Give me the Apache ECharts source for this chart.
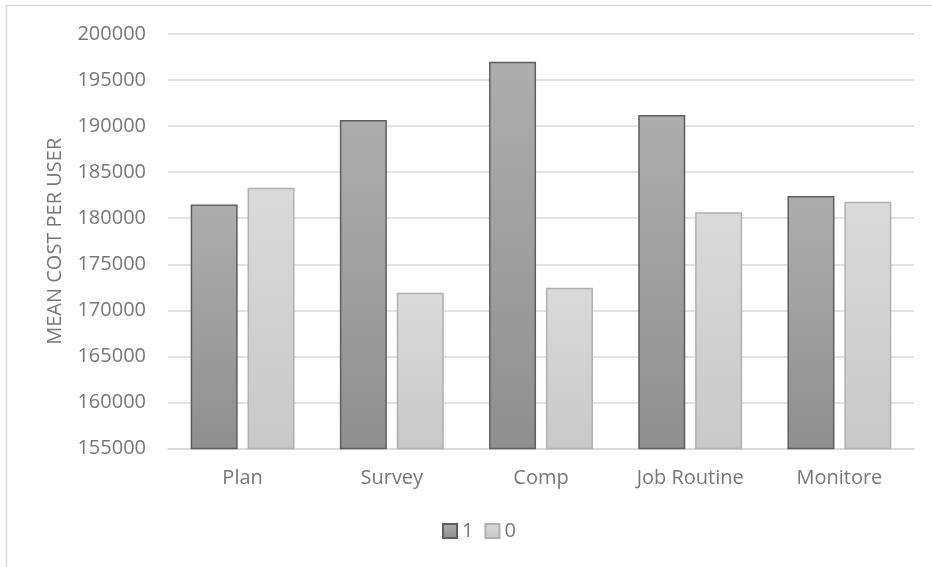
<!DOCTYPE html>
<html>
<head>
<meta charset="utf-8">
<script src="https://cdn.jsdelivr.net/npm/echarts@6/dist/echarts.min.js"></script>
<style>
  html, body { margin: 0; padding: 0; background: #fff; }
  #chart { width: 932px; height: 567px; }
</style>
</head>
<body>
<div id="chart"></div>
<script>
// Mean cost per user, by feature, for users with (1) and without (0) the feature
const categories = ['Plan', 'Survey', 'Comp', 'Job Routine', 'Monitore'];
const seriesNames = ['1', '0'];
const values1 = [181500, 190650, 197000, 191200, 182400];
const values0 = [183300, 171900, 172450, 180650, 181800];
const yTicks = { min: 155000, max: 200000, step: 5000 };

const FONT = '"Open Sans", "Noto Sans", sans-serif';
const TEXT = '#777777';
const GRID_LINE = '#d9d9d9';

function grad(top, bottom) {
  return new echarts.graphic.LinearGradient(0, 0, 0, 1, [
    { offset: 0, color: top },
    { offset: 1, color: bottom }
  ]);
}

const chart = echarts.init(document.getElementById('chart'), null, { renderer: 'canvas' });

chart.setOption({
  animation: false,
  backgroundColor: '#ffffff',
  textStyle: { fontFamily: FONT },
  grid: {
    left: 168, right: 18, top: 34, bottom: 118.5,
    containLabel: false,
    outerBoundsMode: 'none'
  },
  legend: {
    data: seriesNames,
    left: 442, top: 521,
    padding: 0,
    icon: 'rect',
    itemWidth: 14, itemHeight: 14,
    itemGap: 11,
    textStyle: { color: TEXT, fontSize: 20, fontFamily: FONT }
  },
  xAxis: {
    type: 'category',
    data: categories,
    axisLine: { show: true, lineStyle: { color: GRID_LINE, width: 1.5 } },
    axisTick: { show: false },
    axisLabel: { color: TEXT, fontSize: 20, fontFamily: FONT, margin: 20 }
  },
  yAxis: {
    type: 'value',
    name: 'MEAN COST PER USER',
    nameLocation: 'middle',
    nameGap: 103,
    nameTextStyle: { color: TEXT, fontSize: 20, fontFamily: FONT },
    min: yTicks.min, max: yTicks.max, interval: yTicks.step,
    axisLine: { show: false },
    axisTick: { show: false },
    axisLabel: {
      color: TEXT, fontSize: 20, fontFamily: FONT, margin: 22,
      formatter: (v) => String(v)
    },
    splitLine: { lineStyle: { color: GRID_LINE, width: 1.5 } }
  },
  series: [
    {
      name: seriesNames[0],
      type: 'bar',
      data: values1,
      barWidth: 47,
      barGap: '21%',
      itemStyle: {
        color: grad('#adadad', '#8f8f8f'),
        borderColor: '#5e5e5e',
        borderWidth: 1.5
      }
    },
    {
      name: seriesNames[1],
      type: 'bar',
      data: values0,
      barWidth: 47,
      itemStyle: {
        color: grad('#dadada', '#c8c8c8'),
        borderColor: '#b0b0b0',
        borderWidth: 1.5
      }
    }
  ],
  graphic: [
    {
      type: 'polyline',
      silent: true,
      shape: { points: [[6.5, 567], [6.5, 5.5], [932, 5.5]] },
      style: { fill: null, stroke: GRID_LINE, lineWidth: 1.5 }
    }
  ]
});
</script>
</body>
</html>
